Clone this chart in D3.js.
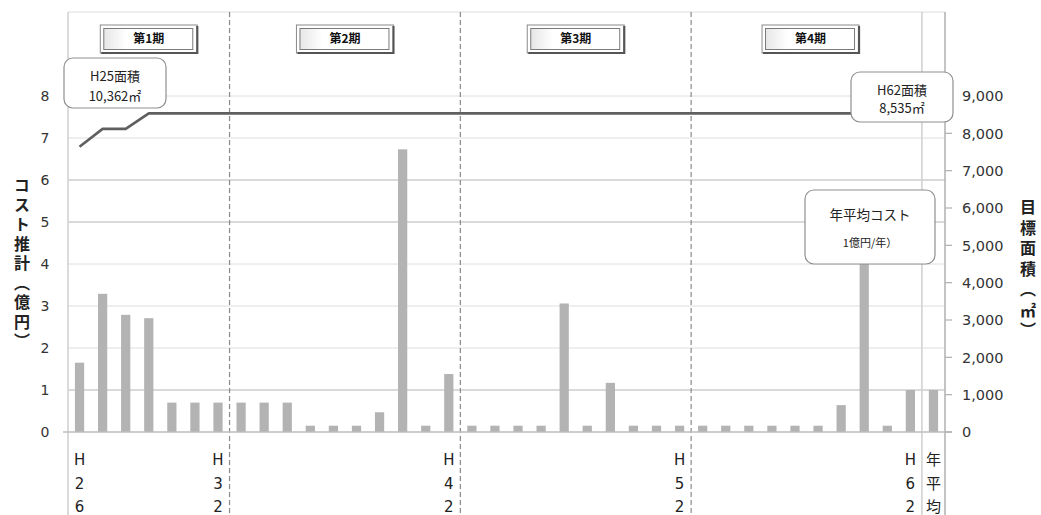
<!DOCTYPE html>
<html lang="ja">
<head>
<meta charset="utf-8">
<script src="https://cdn.jsdelivr.net/npm/d3@7"></script>
<style>
  html, body { margin: 0; padding: 0; background: #fff; }
  svg { display: block; font-family: "Noto Sans CJK JP", "Noto Sans", sans-serif; }
  .num { font-family: "DejaVu Sans", "Noto Sans CJK JP", sans-serif; }
</style>
</head>
<body>
<svg id="chart" width="1041" height="515"></svg>
<script>
// 年度（H26〜H62）と年平均
const categories = [
  "H26","H27","H28","H29","H30","H31","H32","H33","H34","H35",
  "H36","H37","H38","H39","H40","H41","H42","H43","H44","H45",
  "H46","H47","H48","H49","H50","H51","H52","H53","H54","H55",
  "H56","H57","H58","H59","H60","H61","H62","年平均"
];
// コスト推計（億円）
const costValues = [
  1.65, 3.29, 2.79, 2.71, 0.70, 0.70, 0.70, 0.70, 0.70, 0.70,
  0.15, 0.15, 0.15, 0.47, 6.73, 0.15, 1.38, 0.15, 0.15, 0.15,
  0.15, 3.06, 0.15, 1.17, 0.15, 0.15, 0.15, 0.15, 0.15, 0.15,
  0.15, 0.15, 0.15, 0.64, 5.00, 0.15, 1.00, 1.00
];
// 目標面積（㎡）
const areaYears = [
  "H26","H27","H28","H29","H30","H31","H32","H33","H34","H35",
  "H36","H37","H38","H39","H40","H41","H42","H43","H44","H45",
  "H46","H47","H48","H49","H50","H51","H52","H53","H54","H55",
  "H56","H57","H58","H59","H60","H61","H62"
];
const areaValues = [
  7640, 8120, 8120, 8535, 8535, 8535, 8535, 8535, 8535, 8535,
  8535, 8535, 8535, 8535, 8535, 8535, 8535, 8535, 8535, 8535,
  8535, 8535, 8535, 8535, 8535, 8535, 8535, 8535, 8535, 8535,
  8535, 8535, 8535, 8535, 8535, 8535, 8535
];
// 軸目盛
const leftTicks = [0, 1, 2, 3, 4, 5, 6, 7, 8];
const rightTicks = [0, 1000, 2000, 3000, 4000, 5000, 6000, 7000, 8000, 9000];
// 表示する年度ラベル
const shownLabels = ["H26", "H32", "H42", "H52", "H62", "年平均"];
// 期間区分
const periodNames = ["第1期", "第2期", "第3期", "第4期"];
const periodStarts = ["H26", "H33", "H43", "H53"];
const periodEnds = ["H32", "H42", "H52", "H62"];

const svg = d3.select("#chart");
const plotLeft = 68, plotRight = 945, plotTop = 12, plotBase = 432;

const x = d3.scaleBand().domain(categories).range([plotLeft, plotRight])
  .paddingInner(0.6).paddingOuter(0.3);
const step = x.step();
const cx = d => x(d) + x.bandwidth() / 2;
const y = d3.scaleLinear().domain([0, 10]).range([plotBase, plotTop]);
const yR = d3.scaleLinear().domain([0, 11250]).range([plotBase, plotTop]);

// 横グリッド
const darkGrid = new Set([1, 5, 6]);
svg.append("g").selectAll("line").data(leftTicks.filter(d => d > 0).concat([10]))
  .join("line")
  .attr("x1", plotLeft).attr("x2", plotRight)
  .attr("y1", d => y(d)).attr("y2", d => y(d))
  .attr("stroke", d => darkGrid.has(d) ? "#b4b4b4" : "#dedede")
  .attr("stroke-width", 1);

// 外枠（左右の縦線）
svg.append("line").attr("x1", plotLeft).attr("x2", plotLeft).attr("y1", plotTop).attr("y2", 515)
  .attr("stroke", "#cfcfcf").attr("stroke-width", 1.5);
svg.append("line").attr("x1", plotRight).attr("x2", plotRight).attr("y1", plotTop).attr("y2", 515)
  .attr("stroke", "#b0b0b0").attr("stroke-width", 1.5);

// 年平均の区切り線
const avgSep = x("年平均") - step * 0.3;
svg.append("line").attr("x1", avgSep).attr("x2", avgSep).attr("y1", plotTop).attr("y2", 515)
  .attr("stroke", "#cfcfcf").attr("stroke-width", 1.5);

// 期間の区切り（破線）
const bounds = periodEnds.slice(0, 3).map(d => x(d) + x.bandwidth() + step * 0.3);
svg.append("g").selectAll("line").data(bounds).join("line")
  .attr("x1", d => d).attr("x2", d => d).attr("y1", plotTop).attr("y2", 515)
  .attr("stroke", "#8a8a8a").attr("stroke-width", 1.2)
  .attr("stroke-dasharray", "5,3");

// 棒グラフ（コスト）
svg.append("g").selectAll("rect").data(categories).join("rect")
  .attr("x", d => x(d))
  .attr("width", x.bandwidth())
  .attr("y", (d, i) => y(costValues[i]))
  .attr("height", (d, i) => plotBase - y(costValues[i]))
  .attr("fill", "#b3b3b3");

// 0 の基線
svg.append("line").attr("x1", plotLeft - 5).attr("x2", plotRight + 7).attr("y1", plotBase).attr("y2", plotBase)
  .attr("stroke", "#bdbdbd").attr("stroke-width", 1.5);

// 折れ線（目標面積）
const line = d3.line().x((d, i) => cx(areaYears[i])).y(d => yR(d));
svg.append("path").datum(areaValues)
  .attr("d", line)
  .attr("fill", "none").attr("stroke", "#5f5f5f").attr("stroke-width", 2.6)
  .attr("stroke-linejoin", "round");

// 左軸
svg.append("g").selectAll("text").data(leftTicks).join("text")
  .attr("class", "num")
  .attr("x", 45).attr("y", d => y(d)).attr("dy", "0.36em")
  .attr("text-anchor", "middle").attr("font-size", 14).attr("fill", "#333")
  .text(d => d);

// 右軸
const rAxis = svg.append("g");
rAxis.selectAll("line").data(rightTicks).join("line")
  .attr("x1", plotRight).attr("x2", plotRight + 7)
  .attr("y1", d => yR(d)).attr("y2", d => yR(d))
  .attr("stroke", "#b0b0b0").attr("stroke-width", 1.2);
rAxis.selectAll("text").data(rightTicks).join("text")
  .attr("class", "num")
  .attr("x", 962).attr("y", d => yR(d)).attr("dy", "0.36em")
  .attr("text-anchor", "start").attr("font-size", 14.5).attr("fill", "#333")
  .text(d => d3.format(",")(d));

// 軸タイトル（縦書き）
svg.append("text")
  .attr("x", 22).attr("y", 177)
  .style("writing-mode", "vertical-rl")
  .attr("font-size", 16).attr("font-weight", "bold").attr("letter-spacing", 3.5)
  .attr("fill", "#222")
  .text("コスト推計（億円）");
svg.append("text")
  .attr("x", 1028).attr("y", 199)
  .style("writing-mode", "vertical-rl")
  .attr("font-size", 16).attr("font-weight", "bold").attr("letter-spacing", 4.5)
  .attr("fill", "#222")
  .text("目標面積（㎡）");

// 年度ラベル（縦並び）
const catLabels = svg.append("g").selectAll("text").data(shownLabels).join("text")
  .attr("class", "num")
  .attr("font-size", 15).attr("fill", "#222").attr("text-anchor", "middle");
catLabels.each(function(d) {
  d3.select(this).selectAll("tspan").data(d.split("")).join("tspan")
    .attr("x", cx(d)).attr("y", (c, i) => 465 + i * 23.5)
    .text(c => c);
});

// 期間ラベルの枠
const grad = svg.append("defs").append("linearGradient").attr("id", "boxfill");
grad.append("stop").attr("offset", "0").attr("stop-color", "#e6e6e6");
grad.append("stop").attr("offset", "0.25").attr("stop-color", "#ffffff");
grad.append("stop").attr("offset", "1").attr("stop-color", "#ffffff");
const pg = svg.append("g").selectAll("g").data(periodNames).join("g")
  .attr("transform", (d, i) => {
    const a = x(periodStarts[i]), b = x(periodEnds[i]) + x.bandwidth();
    return `translate(${(a + b) / 2 - 48.5 + (i === 3 ? 4 : 0)},25)`;
  });
pg.append("rect").attr("x", 0).attr("y", 0).attr("width", 97).attr("height", 28)
  .attr("fill", "#fff").attr("stroke", "#8a8a8a").attr("stroke-width", 1);
pg.append("path").attr("d", "M97,1 L97,28 L1,28")
  .attr("fill", "none").attr("stroke", "#555").attr("stroke-width", 2.2);
pg.append("rect").attr("x", 3.5).attr("y", 3.5).attr("width", 89).attr("height", 21)
  .attr("fill", "url(#boxfill)").attr("stroke", "#7a7a7a").attr("stroke-width", 1);
pg.append("text").attr("x", 48.5).attr("y", 14).attr("dy", "0.36em")
  .attr("text-anchor", "middle").attr("font-size", 12).attr("font-weight", "bold")
  .attr("fill", "#111").text(d => d);

// 吹き出し
function callout(bx, by, w, h, lines) {
  const g = svg.append("g");
  g.append("rect").attr("x", bx).attr("y", by).attr("width", w).attr("height", h)
    .attr("rx", 9).attr("ry", 9)
    .attr("fill", "#fff").attr("stroke", "#8f8f8f").attr("stroke-width", 1.2);
  g.selectAll("text").data(lines).join("text")
    .attr("x", bx + w / 2).attr("y", d => d.y)
    .attr("text-anchor", "middle").attr("font-size", d => d.size)
    .attr("fill", "#222").text(d => d.t);
}
callout(64, 58, 102, 50, [
  { t: "H25面積", y: 81, size: 13 },
  { t: "10,362㎡", y: 101, size: 13 }
]);
callout(851, 72, 102, 50, [
  { t: "H62面積", y: 95, size: 13 },
  { t: "8,535㎡", y: 113, size: 13 }
]);
callout(805, 190, 130, 74, [
  { t: "年平均コスト", y: 220, size: 13.5 },
  { t: "1億円/年）", y: 247, size: 11 }
]);
</script>
</body>
</html>
